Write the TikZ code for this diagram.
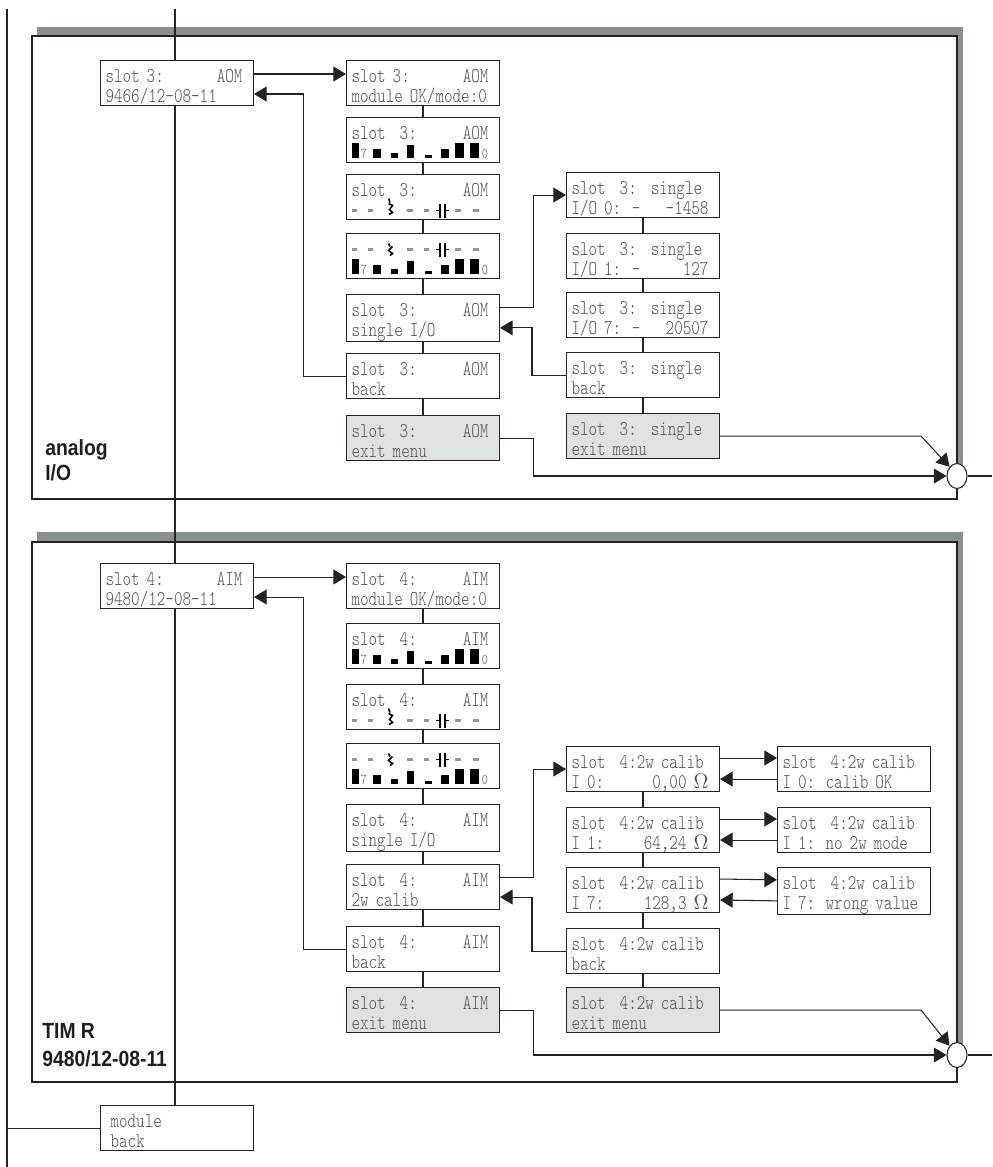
\documentclass[tikz,border=0pt]{standalone}
\usepackage{fontspec}
\newfontfamily\lcdfont[FakeStretch=0.78]{lmmonolt10-regular.otf}
\newfontfamily\lblfont[FakeStretch=0.88]{Liberation Sans}
\usetikzlibrary{arrows.meta,calc,shapes.geometric}

\definecolor{lcdtext}{RGB}{80,80,80}
\definecolor{dashgray}{RGB}{150,150,150}
\definecolor{exitfill}{RGB}{221,227,224}
\definecolor{shadowgray}{RGB}{138,143,146}
\definecolor{linec}{RGB}{35,35,35}
\definecolor{lbltext}{RGB}{30,30,30}

% two lines of a 16 character display: left/right part of each line
\newcommand{\lcd}[4]{\noindent\makebox[2.86cm][l]{\rule[-0.1cm]{0pt}{0.534cm}#1\hfill#2\hspace{0.12cm}}\\
  \makebox[2.86cm][l]{\rule[-0.066cm]{0pt}{0.356cm}#3\hfill#4\hspace{0.12cm}}}

% bar graph of the eight channels (node, baseline)
\newcommand{\lcdbars}[2]{%
  \begin{scope}[shift={(#1.north west)}]
    \foreach \xa/\xb/\hb in {6/13/15,27/35/9,45/52/5,61/68/13,79/86/3,95/103/9,109/118/15,124/133/15}
      \fill (\xa,#2) rectangle (\xb,#2-\hb);
    \node[lcddigit] at (14.5,#2) {7};
    \node[lcddigit] at (135.5,#2) {0};
  \end{scope}}

% row of dashes with switch and capacitor (node, centre line, 1 or 2 = switch form)
\newcommand{\lcddash}[3]{%
  \begin{scope}[shift={(#1.north west)}]
    \foreach \xa/\xb in {6/11,22/27,61/67,78/83,109/115,127/133}
      \fill[dashgray] (\xa,#2-1.2) rectangle (\xb,#2+1.2);
    \draw[line width=1.3pt] (94,#2-7) -- (94,#2+7) (99,#2-7) -- (99,#2+7);
    \draw[line width=0.8pt] (90,#2) -- (94,#2) (99,#2) -- (103,#2);
    \ifnum#3=1
      \draw[line width=0.9pt] (42.5,#2-12) -- (44,#2-8)
        (42.5,#2-7) -- (46.5,#2-5) -- (43.5,#2-1) -- (46.5,#2+2) -- (43,#2+4);
    \else
      \draw[line width=0.9pt] (42.5,#2-6) -- (44,#2-3)
        (46.5,#2-3) -- (42.5,#2+1) -- (46.5,#2+4) -- (44,#2+6);
    \fi
  \end{scope}}

\tikzset{
  lcdbox/.style={draw=linec, line width=0.6pt, fill=white, anchor=north west,
    inner xsep=0.1cm, inner ysep=0pt, text width=2.86cm, align=left,
    font=\lcdfont\fontsize{11.9pt}{0.4cm}\selectfont, text=lcdtext},
  exitbox/.style={lcdbox, fill=exitfill},
  lcddigit/.style={anchor=base west, inner sep=0pt,
    font=\lcdfont\fontsize{8.5pt}{8.5pt}\selectfont, text=lcdtext},
  lbl/.style={anchor=base west, inner sep=0pt, align=left, text=lbltext,
    font=\lblfont\bfseries\fontsize{12.5pt}{14.2pt}\selectfont},
  frameline/.style={draw=linec, line width=0.8pt, fill=white},
  junction/.style={draw=linec, line width=0.6pt, fill=white, ellipse,
    minimum width=0.4cm, minimum height=0.5cm, inner sep=0pt},
  arr/.style={-{Triangle[length=7.2pt,width=8.5pt]}, line width=0.6pt, draw=linec},
  conn/.style={line width=0.6pt, draw=linec}
}

\begin{document}
\begin{tikzpicture}[x=0.02cm,y=-0.02cm]
\useasboundingbox (0,0) rectangle (992,1167);

% the two module frames with their shadow
\fill[shadowgray] (37,27) rectangle (963,488);
\draw[frameline] (32,36) rectangle (957,499);
\fill[shadowgray] (37,532) rectangle (963,1066);
\draw[frameline] (32,542) rectangle (957,1082);

% analog I/O
\node[lcdbox] (A)  at (100,60)  {\lcd{slot 3:}{AOM}{9466/12-08-11}{}};
\node[lcdbox] (B1) at (346,60)  {\lcd{slot 3:}{AOM}{module OK/mode:0}{}};
\node[lcdbox] (B2) at (346,117) {\lcd{slot~~3:}{AOM}{}{}};
\node[lcdbox] (B3) at (346,174) {\lcd{slot~~3:}{AOM}{}{}};
\node[lcdbox] (B4) at (346,233) {\lcd{}{}{}{}};
\node[lcdbox] (B5) at (346,294) {\lcd{slot~~3:}{AOM}{single I/O}{}};
\node[lcdbox] (B6) at (346,353) {\lcd{slot~~3:}{AOM}{back}{}};
\node[exitbox] (B7) at (346,415) {\lcd{slot~~3:}{AOM}{exit menu}{}};

\node[lcdbox] (S1) at (566,172) {\lcd{slot~~3:~~single}{}{I/O 0: -}{-1458}};
\node[lcdbox] (S2) at (566,233) {\lcd{slot~~3:~~single}{}{I/O 1: -}{127}};
\node[lcdbox] (S3) at (566,292) {\lcd{slot~~3:~~single}{}{I/O 7: -}{20507}};
\node[lcdbox] (S4) at (566,352) {\lcd{slot~~3:~~single}{}{back}{}};
\node[exitbox] (S5) at (566,413) {\lcd{slot~~3:~~single}{}{exit menu}{}};

\lcdbars{B2}{41}
\lcddash{B3}{36.5}{1}
\lcddash{B4}{16.5}{2}
\lcdbars{B4}{41}

\node[lbl] (lblA) at (45,480) {analog\\I/O};

% TIM R
\node[lcdbox] (C)  at (100,563) {\lcd{slot 4:}{AIM}{9480/12-08-11}{}};
\node[lcdbox] (D1) at (346,563) {\lcd{slot~~4:}{AIM}{module OK/mode:0}{}};
\node[lcdbox] (D2) at (346,623) {\lcd{slot~~4:}{AIM}{}{}};
\node[lcdbox] (D3) at (346,684) {\lcd{slot~~4:}{AIM}{}{}};
\node[lcdbox] (D4) at (346,743) {\lcd{}{}{}{}};
\node[lcdbox] (D5) at (346,804) {\lcd{slot~~4:}{AIM}{single I/O}{}};
\node[lcdbox] (D6) at (346,864) {\lcd{slot~~4:}{AIM}{2w calib}{}};
\node[lcdbox] (D7) at (346,926) {\lcd{slot~~4:}{AIM}{back}{}};
\node[exitbox] (D8) at (346,987) {\lcd{slot~~4:}{AIM}{exit menu}{}};

\node[lcdbox] (E1) at (566,746) {\lcd{slot~~4:2w calib}{}{I 0:}{0,00 $\Omega$}};
\node[lcdbox] (E2) at (566,807) {\lcd{slot~~4:2w calib}{}{I 1:}{64,24 $\Omega$}};
\node[lcdbox] (E3) at (566,867) {\lcd{slot~~4:2w calib}{}{I 7:}{128,3 $\Omega$}};
\node[lcdbox] (E4) at (566,928) {\lcd{slot~~4:2w calib}{}{back}{}};
\node[exitbox] (E5) at (566,987) {\lcd{slot~~4:2w calib}{}{exit menu}{}};

\node[lcdbox] (F1) at (777,746) {\lcd{slot~~4:2w calib}{}{I 0: calib OK}{}};
\node[lcdbox] (F2) at (777,807) {\lcd{slot~~4:2w calib}{}{I 1: no 2w mode}{}};
\node[lcdbox] (F3) at (777,867) {\lcd{slot~~4:2w calib}{}{I 7: wrong value}{}};

\lcdbars{D2}{41}
\lcddash{D3}{36.5}{1}
\lcddash{D4}{16.5}{2}
\lcdbars{D4}{41}

\node[lbl, font=\lblfont\bfseries\fontsize{12.5pt}{15.9pt}\selectfont]
  (lblT) at (42,1066) {TIM R\\9480/12-08-11};

\node[lcdbox] (M) at (100,1105) {\lcd{\hspace*{0.1cm}module}{}{\hspace*{0.1cm}back}{}};

% main line and module line
\coordinate (ltop) at (7,9);
\coordinate (lbot) at (7,1167);
\coordinate (mtop) at (175,9);
\draw[conn] (ltop) -- (lbot);
\draw[conn] (M.west) -- (M.west -| ltop);
\draw[conn] (mtop) -- (mtop |- A.north)
            (A.south -| mtop) -- (mtop |- C.north)
            (C.south -| mtop) -- (mtop |- M.north);

% menu stacks
\foreach \u/\v in {B1/B2,B2/B3,B3/B4,B4/B5,B5/B6,B6/B7,S1/S2,S2/S3,S3/S4,S4/S5,
                   D1/D2,D2/D3,D3/D4,D4/D5,D5/D6,D6/D7,D7/D8,E1/E2,E2/E3,E3/E4,E4/E5}
  \draw[conn] (\u) -- (\v);

% exits
\node[junction] (c1) at (957,476) {};
\node[junction] (c2) at (957,1055) {};
\coordinate (out1) at (992,476);
\coordinate (out2) at (992,1055);
\draw[conn] (c1.east) -- (out1);
\draw[conn] (c2.east) -- (out2);

% analog I/O arrows
\draw[arr] ($(A.east)+(0,-9)$) -- ($(B1.west)+(0,-9)$);
\draw[arr] (B6.west) -- ++(-42.5,0) |- ($(A.east)+(0,11)$);
\draw[arr] ($(B5.east)+(0,-10)$) -- ++(33,0) |- (S1.west);
\draw[arr] (S4.west) -- ++(-34,0) |- ($(B5.east)+(0,10)$);
\draw[arr] (B7.east) -- ++(33,0) |- (c1.west);
\draw[arr] (S5.east) -- ++(201,0) -- (c1.north west);

% TIM R arrows
\draw[arr] ($(C.east)+(0,-9)$) -- ($(D1.west)+(0,-9)$);
\draw[arr] (D7.west) -- ++(-42.5,0) |- ($(C.east)+(0,11)$);
\draw[arr] ($(D6.east)+(0,-10)$) -- ++(33,0) |- (E1.west);
\draw[arr] (E4.west) -- ++(-34,0) |- ($(D6.east)+(0,10)$);
\foreach \i in {1,2,3} {
  \draw[arr] ($(E\i.east)+(0,-11)$) -- ($(F\i.west)+(0,-11)$);
  \draw[arr] ($(F\i.west)+(0,10)$) -- ($(E\i.east)+(0,10)$);
}
\draw[arr] (D8.east) -- ++(33,0) |- (c2.west);
\draw[arr] (E5.east) -- ++(201,0) -- (c2.north west);

\end{tikzpicture}
\end{document}
